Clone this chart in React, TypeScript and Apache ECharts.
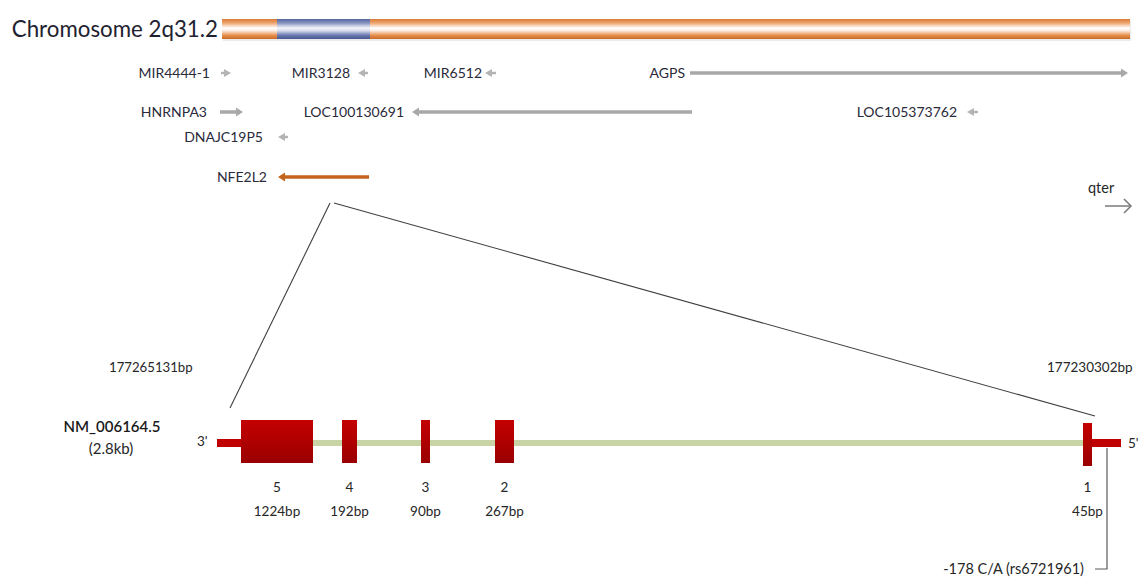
import React, { useEffect, useRef } from "react";
import * as echarts from "echarts";

// ---------- data ----------
const chromosomeLabel = "Chromosome 2q31.2";
const bandStart = [222, 277, 370];
const bandEnd = [277, 370, 1130];
const bandStain = ["arm", "locus", "arm"];

const geneNames = ["MIR4444-1", "MIR3128", "MIR6512", "AGPS", "HNRNPA3", "LOC100130691", "LOC105373762", "DNAJC19P5", "NFE2L2"];
const geneStart = [221, 358, 485, 690, 220, 412, 967, 278, 278];
const geneEnd = [231, 368, 496, 1128, 243, 692, 978, 288, 369];
const geneStrand = [1, -1, -1, 1, 1, -1, -1, -1, -1];
const geneTrack = [0, 0, 0, 0, 1, 1, 1, 2, 3];
const focusGene = "NFE2L2";

const exonNumber = [5, 4, 3, 2, 1];
const exonLengthBp = [1224, 192, 90, 267, 45];
const exonStart = [241, 342, 421, 495, 1083];
const exonEnd = [313, 357, 430, 514, 1092];
const utr3 = [217, 241];
const utr5 = [1092, 1121];
const intron = [313, 1083];

const transcriptId = "NM_006164.5";
const transcriptSize = "(2.8kb)";
const coordLeft = "177265131bp";
const coordRight = "177230302bp";
const snpLabel = "-178 C/A (rs6721961)";
const snpPos = 1107;

// ---------- layout ----------
const W = 1140;
const H = 577;
const FONT = "Lato, 'Open Sans', sans-serif";
const trackY = [73, 112, 137, 177];
const labelGap = [11, 8, 3, 5, 13, 8, 10, 15, 11];
const chromTop = 19;
const chromBottom = 39;
const exonTop = 420;
const exonBottom = 463;
const geneY = 443;

const armGrad = () =>
  new echarts.graphic.LinearGradient(0, 0, 0, 1, [
    { offset: 0, color: "#DA7A35" },
    { offset: 0.2, color: "#EDA56F" },
    { offset: 0.45, color: "#FFFFFF" },
    { offset: 0.58, color: "#FCEDE2" },
    { offset: 0.82, color: "#E68E4C" },
    { offset: 1, color: "#C86A27" },
  ]);
const locusGrad = () =>
  new echarts.graphic.LinearGradient(0, 0, 0, 1, [
    { offset: 0, color: "#55659F" },
    { offset: 0.2, color: "#8793C0" },
    { offset: 0.45, color: "#F4F5FA" },
    { offset: 0.58, color: "#D8DCEC" },
    { offset: 0.82, color: "#6877AE" },
    { offset: 1, color: "#4A5892" },
  ]);
const exonGrad = () =>
  new echarts.graphic.LinearGradient(0, 0, 0, 1, [
    { offset: 0, color: "#C40000" },
    { offset: 1, color: "#9A0000" },
  ]);

function text(x: number, y: number, t: string, opts: any = {}) {
  return {
    type: "text",
    style: {
      text: t,
      x,
      y,
      fill: opts.fill || "#262626",
      fontSize: opts.size || 13,
      fontFamily: FONT,
      fontWeight: opts.weight || "normal",
      align: opts.align || "left",
      verticalAlign: "middle",
    },
  };
}

export default function App() {
  const ref = useRef<HTMLDivElement>(null);
  useEffect(() => {
    if (!ref.current) return;
    const chart = echarts.init(ref.current, undefined, { renderer: "svg" });

    const rectBetween = (api: any, x0: number, x1: number, y0: number, y1: number) => {
      const a = api.coord([x0, y0]);
      const b = api.coord([x1, y1]);
      return { x: a[0], y: a[1], width: b[0] - a[0], height: b[1] - a[1] };
    };

    const option: any = {
      animation: false,
      grid: { left: 0, right: 0, top: 0, bottom: 0 },
      xAxis: { type: "value", min: 0, max: W, show: false },
      yAxis: { type: "value", min: 0, max: H, inverse: true, show: false },
      series: [
        // chromosome bands
        {
          type: "custom",
          name: "chromosome",
          data: bandStart.map((s, i) => [s, bandEnd[i]]),
          renderItem: (params: any, api: any) => {
            const i = params.dataIndex;
            const shape = rectBetween(api, api.value(0), api.value(1), chromTop, chromBottom);
            const children: any[] = [
              { type: "rect", shape: { ...shape, x: shape.x + 1, y: shape.y + 2 }, style: { fill: "rgba(0,0,0,0.08)" } },
              { type: "rect", shape, style: { fill: bandStain[i] === "locus" ? locusGrad() : armGrad() } },
            ];
            if (i === 0) {
              const p = api.coord([api.value(0), (chromTop + chromBottom) / 2]);
              children.push(text(p[0] - 4, p[1] - 1, chromosomeLabel, { size: 22.3, fill: "#1E2230", align: "right" }));
            }
            return { type: "group", children };
          },
        },
        // genes
        {
          type: "custom",
          name: "genes",
          data: geneStart.map((s, i) => [s, geneEnd[i], geneTrack[i], geneStrand[i]]),
          renderItem: (params: any, api: any) => {
            const i = params.dataIndex;
            const s = api.value(0);
            const e = api.value(1);
            const y = trackY[api.value(2)];
            const dir = api.value(3);
            const a = api.coord([s, y]);
            const b = api.coord([e, y]);
            const isFocus = geneNames[i] === focusGene;
            const color = isFocus ? "#C5621C" : e - s > 20 ? "#A8A8A8" : "#B4B4B4";
            const len = b[0] - a[0];
            const head = 7;
            const hw = len > 20 ? 4.5 : 4;
            const lw = len > 20 ? 3.5 : 2.5;
            const children: any[] = [];
            if (dir > 0) {
              children.push({ type: "line", shape: { x1: a[0], y1: a[1], x2: b[0] - head + 1, y2: a[1] }, style: { stroke: color, lineWidth: lw } });
              children.push({ type: "polygon", shape: { points: [[b[0] - head, a[1] - hw], [b[0], a[1]], [b[0] - head, a[1] + hw]] }, style: { fill: color } });
            } else {
              children.push({ type: "line", shape: { x1: a[0] + head - 1, y1: a[1], x2: b[0], y2: a[1] }, style: { stroke: color, lineWidth: lw } });
              children.push({ type: "polygon", shape: { points: [[a[0] + head, a[1] - hw], [a[0], a[1]], [a[0] + head, a[1] + hw]] }, style: { fill: color } });
            }
            children.push(text(a[0] - labelGap[i], a[1] - 1, geneNames[i], { align: "right", size: 14, fill: "#2A2A3A" }));
            return { type: "group", children };
          },
        },
        // zoom lines from focus gene to transcript
        {
          type: "custom",
          name: "zoom",
          data: [[330, 203, 230, 408], [334, 203, 1095, 416]],
          renderItem: (params: any, api: any) => {
            const p = api.coord([api.value(0), api.value(1)]);
            const q = api.coord([api.value(2), api.value(3)]);
            return { type: "line", shape: { x1: p[0], y1: p[1], x2: q[0], y2: q[1] }, style: { stroke: "#3F3F3F", lineWidth: 1.1 } };
          },
        },
        // transcript backbone (intron + UTRs)
        {
          type: "custom",
          name: "transcript",
          data: [[intron[0], intron[1], 0], [utr3[0], utr3[1], 1], [utr5[0], utr5[1], 1]],
          renderItem: (params: any, api: any) => {
            const kind = api.value(2);
            const half = kind === 0 ? 3 : 4;
            const shape = rectBetween(api, api.value(0), api.value(1), geneY - half, geneY + half);
            return { type: "rect", shape, style: { fill: kind === 0 ? "#C8D3A6" : "#C00000" } };
          },
        },
        // exons
        {
          type: "custom",
          name: "exons",
          data: exonStart.map((s, i) => [s, exonEnd[i], exonNumber[i], exonLengthBp[i]]),
          renderItem: (params: any, api: any) => {
            const s = api.value(0);
            const e = api.value(1);
            const off = api.value(2) === 1 ? 3 : 0;
            const shape = rectBetween(api, s, e, exonTop + off, exonBottom + off);
            const cx = shape.x + shape.width / 2;
            return {
              type: "group",
              children: [
                { type: "rect", shape, style: { fill: exonGrad() } },
                text(cx, 487, String(api.value(2)), { align: "center", size: 13.5 }),
                text(cx, 511, api.value(3) + "bp", { align: "center", size: 13.5 }),
              ],
            };
          },
        },
        // SNP marker
        {
          type: "custom",
          name: "snp",
          data: [[snpPos, 448, 569]],
          renderItem: (params: any, api: any) => {
            const top = api.coord([api.value(0), api.value(1)]);
            const bot = api.coord([api.value(0), api.value(2)]);
            return {
              type: "group",
              children: [
                { type: "polyline", shape: { points: [[top[0], top[1]], [bot[0], bot[1]], [bot[0] - 12, bot[1]]] }, style: { stroke: "#5A5A5A", lineWidth: 1.2, fill: "none" } },
                text(bot[0] - 23, bot[1] - 1, snpLabel, { align: "right", size: 14.5 }),
              ],
            };
          },
        },
        // annotations
        {
          type: "custom",
          name: "labels",
          data: [[0, 0]],
          renderItem: (params: any, api: any) => {
            const c = (x: number, y: number) => api.coord([x, y]);
            const l1 = c(109, 367), l2 = c(1047, 367), nm = c(112, 426), sz = c(111, 448);
            const t3 = c(197, 441), t5 = c(1128, 443), qt = c(1088, 187);
            const a0 = c(1105, 206), a1 = c(1131, 206);
            return {
              type: "group",
              children: [
                text(l1[0], l1[1], coordLeft, { size: 13.2 }),
                text(l2[0], l2[1], coordRight, { size: 13.5 }),
                text(nm[0], nm[1], transcriptId, { size: 15, align: "center", weight: 600, fill: "#1A1A1A" }),
                text(sz[0], sz[1], transcriptSize, { size: 15, align: "center" }),
                text(t3[0], t3[1], "3'", { size: 13.5 }),
                text(t5[0], t5[1], "5'", { size: 13.5 }),
                text(qt[0], qt[1], "qter", { size: 14.5 }),
                { type: "line", shape: { x1: a0[0], y1: a0[1], x2: a1[0], y2: a1[1] }, style: { stroke: "#7A7A7A", lineWidth: 1.5 } },
                { type: "polyline", shape: { points: [[a1[0] - 7, a1[1] - 7], [a1[0], a1[1]], [a1[0] - 7, a1[1] + 7]] }, style: { stroke: "#7A7A7A", lineWidth: 1.5, fill: "none" } },
              ],
            };
          },
        },
      ],
    };
    chart.setOption(option);
    return () => chart.dispose();
  }, []);
  return <div ref={ref} style={{ position: "absolute", left: 0, top: 0, width: W, height: H, background: "#fff" }} />;
}
